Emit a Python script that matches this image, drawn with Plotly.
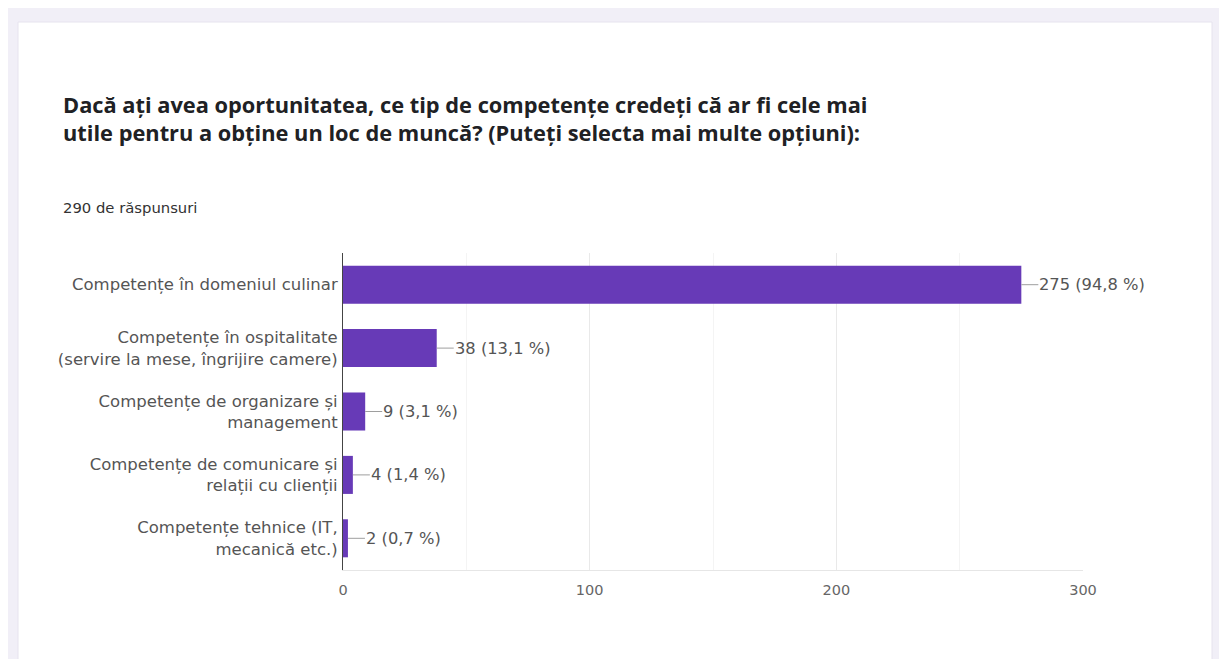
import plotly.graph_objects as go

categories = [
    "Competențe în domeniul culinar",
    "Competențe în ospitalitate<br>(servire la mese, îngrijire camere)",
    "Competențe de organizare și<br>management",
    "Competențe de comunicare și<br>relații cu clienții",
    "Competențe tehnice (IT,<br>mecanică etc.)",
]
counts = [275, 38, 9, 4, 2]
percents = ["94,8 %", "13,1 %", "3,1 %", "1,4 %", "0,7 %"]
x_ticks = [0, 100, 200, 300]

title_text = ("Dacă ați avea oportunitatea, ce tip de competențe credeți că ar fi cele mai<br>"
              "utile pentru a obține un loc de muncă? (Puteți selecta mai multe opțiuni):")
subtitle_text = "290 de răspunsuri"

W, H = 1227, 659
OFF = 8  # page body margin
# desired plot area in page pixels: x 343..1083, y 253..570
L = 343 - OFF
R = W - (1083 - OFF)
T = 253 - OFF
B = H - (570 - OFF)
pw, ph = W - L - R, H - T - B

def px(x):  # page x -> paper
    return (x - OFF - L) / pw

def py(y):  # page y -> paper
    return (H - B - (y - OFF)) / ph

LABEL_FONT = "DejaVu Sans, Verdana, Arial"

fig = go.Figure()
fig.add_trace(go.Bar(
    x=counts, y=categories, orientation="h",
    marker=dict(color="#673ab7", line=dict(width=0)),
    hoverinfo="skip",
))

for c, cat, p in zip(counts, categories, percents):
    fig.add_annotation(
        x=c, y=cat, xref="x", yref="y",
        text=f"{c} ({p})", showarrow=True, arrowhead=0, arrowwidth=1,
        arrowcolor="#9e9e9e", ax=17, ay=0, xanchor="left", yanchor="middle",
        font=dict(family=LABEL_FONT, size=16.3, color="#555555"),
        standoff=0, startstandoff=0, borderpad=0,
    )

# card background
fig.add_shape(type="rect", xref="paper", yref="paper",
              x0=px(18), x1=px(1212), y0=py(700), y1=py(22),
              fillcolor="white", line=dict(color="#e6e3ee", width=1), layer="below")

fig.add_annotation(
    xref="paper", yref="paper", x=px(61), y=py(118.5), xanchor="left", yanchor="middle",
    text=title_text, showarrow=False, align="left",
    font=dict(family="Open Sans, Roboto, Arial", size=21.8, color="#202124", weight="bold"),
)
fig.add_annotation(
    xref="paper", yref="paper", x=px(61), y=py(207), xanchor="left", yanchor="middle",
    text=subtitle_text, showarrow=False, align="left",
    font=dict(family=LABEL_FONT, size=14.8, color="#333333"),
)

fig.update_layout(
    width=W, height=H,
    margin=dict(l=L, r=R, t=T, b=B),
    paper_bgcolor="#f1eff7",
    plot_bgcolor="white",
    showlegend=False,
    bargap=0.4,
    xaxis=dict(
        range=[0, 300], tickvals=x_ticks, showgrid=True, gridcolor="#e9e9e9",
        zeroline=False, showline=True, linecolor="#e6e6e6",
        tickfont=dict(family=LABEL_FONT, size=14.5, color="#666666"),
        minor=dict(dtick=50, showgrid=True, gridcolor="#f4f4f4"),
        ticklabelstandoff=7,
        fixedrange=True,
    ),
    yaxis=dict(
        autorange="reversed", showline=True, linecolor="#444444", linewidth=1,
        showgrid=False, ticks="", ticklabelstandoff=1,
        tickfont=dict(family=LABEL_FONT, size=16.5, color="#555555"),
        fixedrange=True,
    ),
)

fig.write_html("out.html")
